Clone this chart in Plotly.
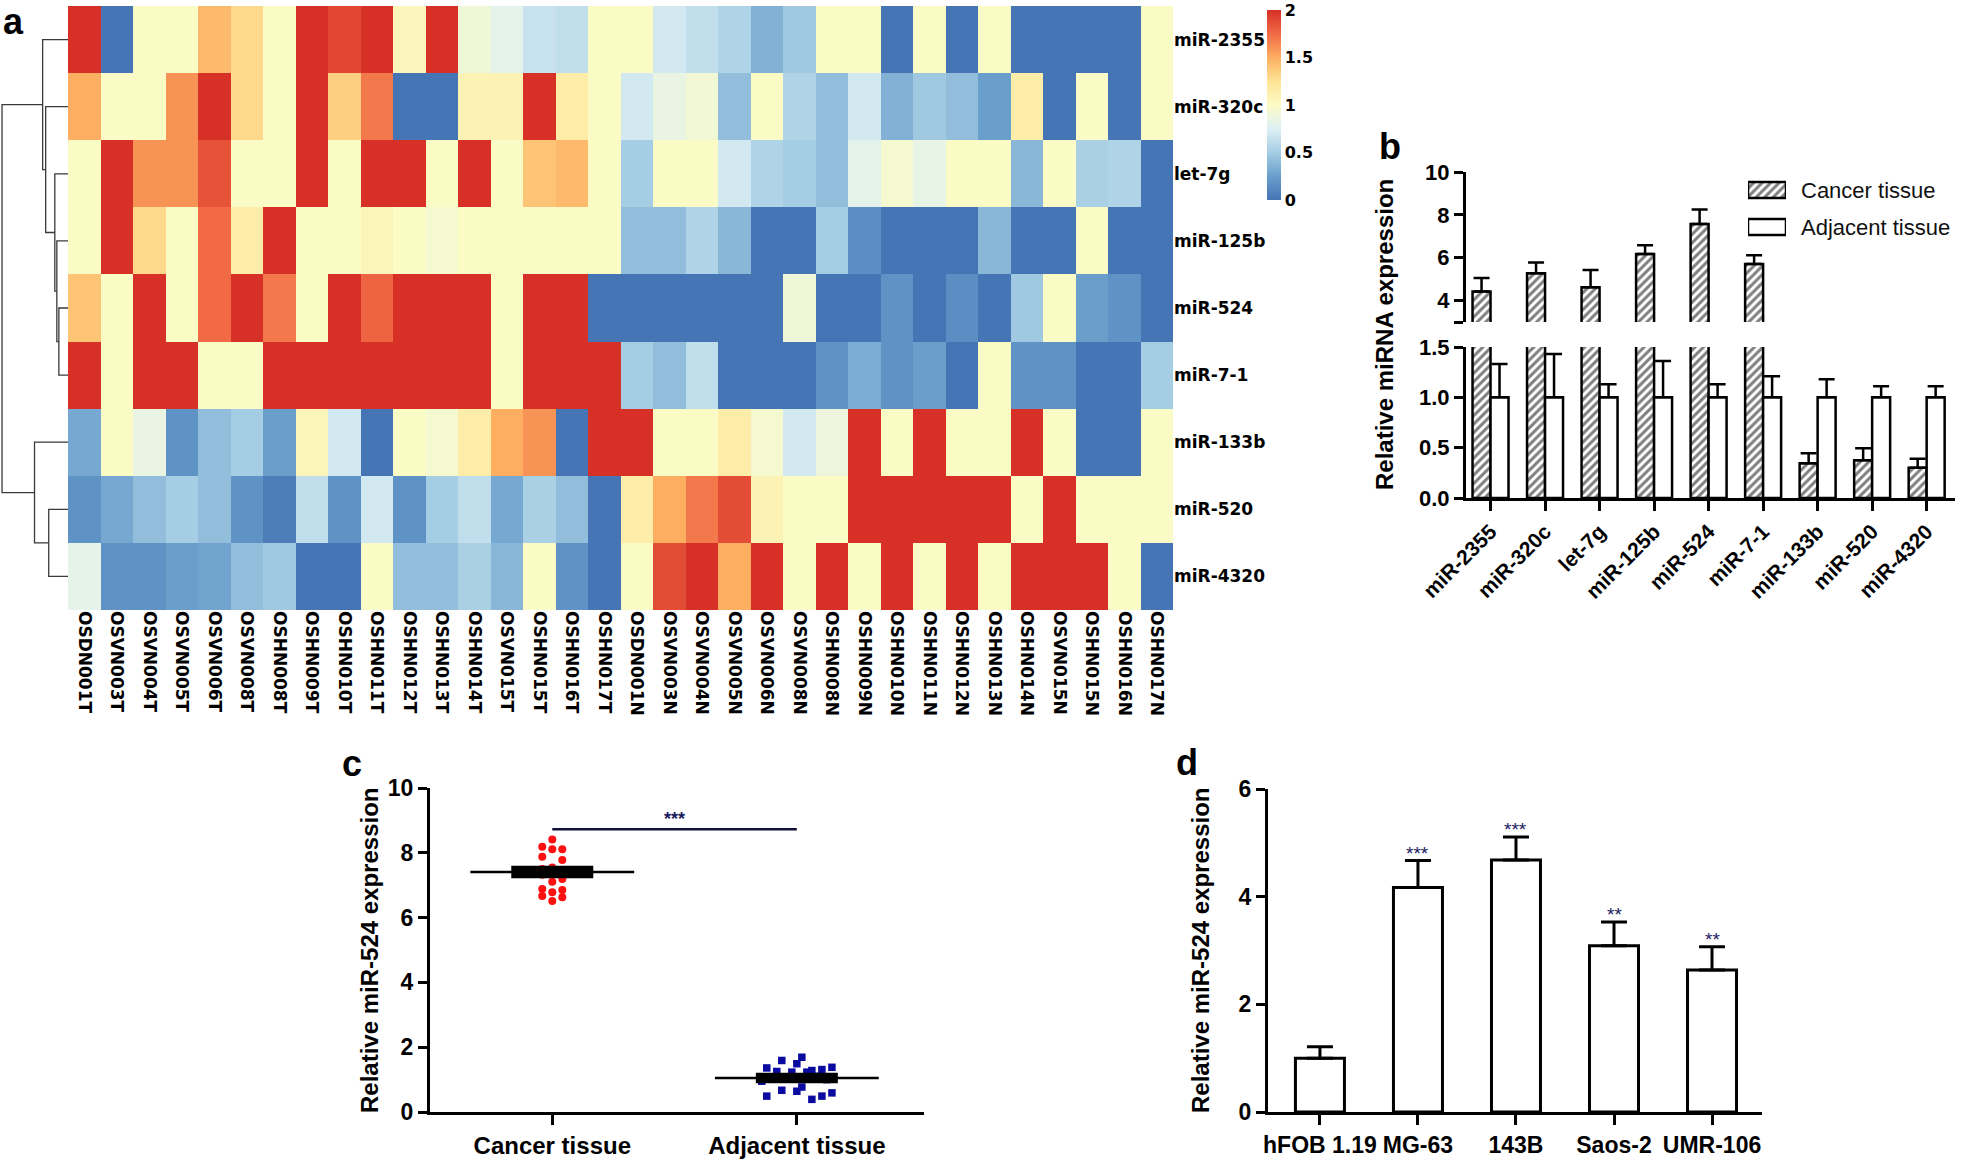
import plotly.graph_objects as go

# ---------------- data ----------------
samples = ["OSDN001T", "OSVN003T", "OSVN004T", "OSVN005T", "OSVN006T", "OSVN008T", "OSHN008T",
           "OSHN009T", "OSHN010T", "OSHN011T", "OSHN012T", "OSHN013T", "OSHN014T", "OSVN015T",
           "OSHN015T", "OSHN016T", "OSHN017T", "OSDN001N", "OSVN003N", "OSVN004N", "OSVN005N",
           "OSVN006N", "OSVN008N", "OSHN008N", "OSHN009N", "OSHN010N", "OSHN011N", "OSHN012N",
           "OSHN013N", "OSHN014N", "OSVN015N", "OSHN015N", "OSHN016N", "OSHN017N"]
mirnas = ["miR-2355", "miR-320c", "let-7g", "miR-125b", "miR-524", "miR-7-1", "miR-133b", "miR-520", "miR-4320"]

expr_mir2355 = [2, 0, 1, 1, 1.45, 1.3, 1, 2, 1.9, 2, 1.05, 2, 0.9, 0.8, 0.65, 0.62, 1,
                1, 0.7, 0.62, 0.55, 0.35, 0.48, 1, 1, 0, 1, 0, 1, 0, 0, 0, 0, 1]
expr_mir320c = [1.5, 1, 1, 1.6, 2, 1.3, 1, 2, 1.35, 1.7, 0, 0, 1.1, 1.1, 2, 1.15, 1,
                0.7, 0.85, 0.92, 0.42, 1, 0.55, 0.42, 0.7, 0.35, 0.48, 0.42, 0.25, 1.15, 0, 1, 0, 1]
expr_let7g = [1, 2, 1.6, 1.6, 1.85, 1, 1, 2, 1, 2, 2, 1, 2, 1, 1.4, 1.45, 1,
              0.5, 1, 1, 0.7, 0.55, 0.5, 0.42, 0.8, 0.95, 0.83, 1, 1, 0.38, 1, 0.52, 0.55, 0]
expr_mir125b = [1, 2, 1.3, 1, 1.75, 1.15, 2, 1, 1, 1.07, 1, 0.95, 1, 1, 1, 1, 1,
                0.42, 0.42, 0.55, 0.38, 0, 0, 0.5, 0.15, 0, 0, 0, 0.38, 0, 0, 1, 0, 0]
expr_mir524 = [1.4, 1, 2, 1, 1.75, 2, 1.7, 1, 2, 1.78, 2, 2, 2, 1, 2, 2, 0,
               0, 0, 0, 0, 0, 0.9, 0, 0, 0.18, 0, 0.15, 0, 0.48, 1, 0.25, 0.18, 0]
expr_mir71 = [2, 1, 2, 2, 1, 1, 2, 2, 2, 2, 2, 2, 2, 1, 2, 2, 2,
              0.5, 0.42, 0.62, 0, 0, 0, 0.18, 0.32, 0.18, 0.25, 0, 1, 0.18, 0.18, 0, 0, 0.5]
expr_mir133b = [0.3, 1, 0.85, 0.18, 0.42, 0.5, 0.25, 1.07, 0.7, 0, 1, 0.95, 1.15, 1.5, 1.6, 0, 2,
                2, 1, 1, 1.15, 0.95, 0.7, 0.88, 2, 1, 2, 1, 1, 2, 1, 0, 0, 1]
expr_mir520 = [0.18, 0.3, 0.42, 0.5, 0.42, 0.18, 0.05, 0.62, 0.18, 0.7, 0.18, 0.5, 0.62, 0.3, 0.52, 0.42, 0,
               1.15, 1.5, 1.7, 1.88, 1.1, 1, 1, 2, 2, 2, 2, 2, 1, 2, 1, 1, 1]
expr_mir4320 = [0.82, 0.18, 0.18, 0.25, 0.28, 0.42, 0.48, 0, 0, 1, 0.42, 0.42, 0.52, 0.38, 1, 0.18, 0,
                1, 1.88, 2, 1.5, 2, 1, 2, 1, 2, 1, 2, 1, 2, 2, 2, 1, 0]
heat_rows = [expr_mir2355, expr_mir320c, expr_let7g, expr_mir125b, expr_mir524,
             expr_mir71, expr_mir133b, expr_mir520, expr_mir4320]
colorbar_ticks = [0, 0.5, 1, 1.5, 2]

# row dendrogram: (child a, child b, height); leaves 0..8, new clusters numbered from 9
dendro_merges = [(4, 5, 0.9), (3, 9, 1.1), (2, 10, 1.3), (1, 11, 2.2), (0, 12, 2.5),
                 (7, 8, 1.9), (6, 14, 3.3), (13, 15, 6.5)]

# panel b
b_series = ["Cancer tissue", "Adjacent tissue"]
b_cancer = [4.42, 5.28, 4.62, 6.17, 7.57, 5.71, 0.345, 0.375, 0.30]
b_cancer_err = [0.63, 0.50, 0.81, 0.41, 0.68, 0.40, 0.10, 0.12, 0.09]
b_adjacent = [1.0, 1.0, 1.0, 1.0, 1.0, 1.0, 1.0, 1.0, 1.0]
b_adjacent_err = [0.33, 0.43, 0.13, 0.36, 0.13, 0.21, 0.18, 0.11, 0.11]

# panel c
c_groups = ["Cancer tissue", "Adjacent tissue"]
c_cancer = [8.41, 8.19, 8.11, 8.11, 7.88, 7.78, 7.55, 7.50, 7.45, 7.38, 7.32,
            7.19, 7.11, 6.88, 6.85, 6.78, 6.67, 6.63, 6.51]
c_adjacent = [1.69, 1.59, 1.49, 1.38, 1.36, 1.31, 1.28, 1.25, 1.23, 1.23, 1.10,
              1.05, 1.00, 0.95, 0.77, 0.67, 0.64, 0.59, 0.49, 0.49, 0.39]
c_means = [7.41, 1.05]
c_sems = [0.10, 0.07]
c_sig = "***"
c_sig_level = 8.73

# panel d
d_cells = ["hFOB 1.19", "MG-63", "143B", "Saos-2", "UMR-106"]
d_values = [1.0, 4.17, 4.68, 3.09, 2.64]
d_err = [0.21, 0.50, 0.43, 0.44, 0.43]
d_sig = ["", "***", "***", "**", "**"]

# ---------------- helpers ----------------
W, H = 1961, 1161
def fx(p):
    return p / W
def fy(p):
    return 1 - p / H

ARIAL = "Arial, Liberation Sans, sans-serif"
DJV = "DejaVu Sans, sans-serif"
NAVY = "#1a1a5e"

colorscale = [[0.0, "#4575b4"], [0.125, "#6a9fcc"], [0.25, "#a5cde3"], [0.375, "#def0f5"],
              [0.5, "#fbfbc6"], [0.625, "#fee496"], [0.75, "#fdae61"], [0.875, "#f16a45"],
              [1.0, "#d73027"]]

fig = go.Figure()

# ---- panel a: heatmap ----
fig.add_trace(go.Heatmap(
    z=heat_rows, x=list(range(len(samples))), y=list(range(len(mirnas))),
    zmin=0, zmax=2, colorscale=colorscale, xaxis="x", yaxis="y",
    colorbar=dict(x=fx(1267), xanchor="left", y=fy(10), yanchor="top",
                  len=(200 - 10) / H, lenmode="fraction", thickness=14, outlinewidth=0,
                  xpad=0, ypad=0, tickvals=colorbar_ticks, ticklabeloverflow="allow",
                  ticktext=[("%g" % t) for t in colorbar_ticks], ticks="",
                  tickfont=dict(family=DJV, size=16, color="black", weight="bold")),
    hoverinfo="skip"))

# dendrogram
pos = {i: (float(i), 0.0) for i in range(len(mirnas))}
dxs, dys = [], []
for k, (a, b, h) in enumerate(dendro_merges):
    ya, ha = pos[a]
    yb, hb = pos[b]
    dxs += [ha, h, h, hb, None]
    dys += [ya, ya, yb, yb, None]
    pos[len(mirnas) + k] = ((ya + yb) / 2, h)
fig.add_trace(go.Scatter(x=dxs, y=dys, mode="lines", line=dict(color="#3a3a3a", width=1.3),
                         xaxis="x2", yaxis="y2", hoverinfo="skip", showlegend=False))

# ---- panel b ----
b_names = mirnas
bx = list(range(len(b_names)))
zeros = [0] * len(bx)
hatch = dict(color="white", line=dict(color="black", width=2.5),
             pattern=dict(shape="/", fgcolor="black", bgcolor="white", size=6, solidity=0.5))
plain = dict(color="white", line=dict(color="black", width=2.5))
for xa, ya in (("x3", "y3"), ("x4", "y4")):
    fig.add_trace(go.Bar(x=bx, y=b_cancer, offset=-0.33, width=0.33, marker=hatch,
                         error_y=dict(type="data", array=b_cancer_err, arrayminus=zeros, symmetric=False,
                                      color="black", thickness=2.5, width=8),
                         xaxis=xa, yaxis=ya, showlegend=False, name=b_series[0]))
    fig.add_trace(go.Bar(x=bx, y=b_adjacent, offset=0.0, width=0.33, marker=plain,
                         error_y=dict(type="data", array=b_adjacent_err, arrayminus=zeros, symmetric=False,
                                      color="black", thickness=2.5, width=8),
                         xaxis=xa, yaxis=ya, showlegend=False, name=b_series[1]))

# legend keys for panel b (drawn in a small dedicated axis)
fig.add_trace(go.Bar(orientation="h", y=list(range(len(b_series)))[::-1], x=[1] * len(b_series),
                     width=0.43,
                     marker=dict(color="white", line=dict(color="black", width=2.5),
                                 pattern=dict(shape=["/", ""], fgcolor="black", bgcolor="white",
                                              size=6, solidity=0.5)),
                     xaxis="x7", yaxis="y7", showlegend=False, hoverinfo="skip"))

# ---- panel c ----
def swarm_offsets(vals, pattern, step=0.041):
    order = sorted(range(len(vals)), key=lambda i: -vals[i])
    off = [0.0] * len(vals)
    for k, i in enumerate(order):
        off[i] = pattern[k % len(pattern)] * step
    return off

c_sets = [c_cancer, c_adjacent]
c_patterns = [[0, -1, 1], [0.5, -1.5, 0, 3.5, -3, 2.5, 1.5, -2, 1, -0.5, 2, -2.5, 3, -3.5]]
c_styles = [dict(color="#ff1010", symbol="circle", size=8),
            dict(color="#0a0aa0", symbol="square", size=7.5)]
for gi, vals in enumerate(c_sets):
    offs = swarm_offsets(vals, c_patterns[gi])
    fig.add_trace(go.Scatter(x=[gi + o for o in offs], y=vals, mode="markers",
                             marker=c_styles[gi], xaxis="x5", yaxis="y5", showlegend=False))
for gi in range(len(c_groups)):
    fig.add_trace(go.Scatter(x=[gi], y=[c_means[gi]], mode="markers", marker=dict(size=1, color="black", opacity=0),
                             error_y=dict(type="data", array=[c_sems[gi]], color="black", thickness=6, width=41),
                             xaxis="x5", yaxis="y5", showlegend=False))
    fig.add_trace(go.Scatter(x=[gi - 0.335, gi + 0.335], y=[c_means[gi]] * 2, mode="lines",
                             line=dict(color="black", width=2.5), xaxis="x5", yaxis="y5", showlegend=False))
fig.add_trace(go.Scatter(x=[0, len(c_groups) - 1], y=[c_sig_level] * 2, mode="lines",
                         line=dict(color="#10103a", width=2.5), xaxis="x5", yaxis="y5", showlegend=False))

# ---- panel d ----
dx = list(range(len(d_cells)))
fig.add_trace(go.Bar(x=dx, y=d_values, width=0.5,
                     marker=dict(color="white", line=dict(color="black", width=3)),
                     error_y=dict(type="data", array=d_err, arrayminus=[0] * len(dx), symmetric=False,
                                  color="black", thickness=3, width=13),
                     xaxis="x6", yaxis="y6", showlegend=False))

# ---------------- layout ----------------
axis_common = dict(showgrid=False, zeroline=False, showline=True, linecolor="black", linewidth=3,
                   ticks="outside", tickcolor="black", tickwidth=2.5)
tick_font = dict(family=ARIAL, size=22, color="black", weight="bold")

layout = dict(
    width=W, height=H, margin=dict(l=0, r=0, t=0, b=0, pad=0, autoexpand=False),
    paper_bgcolor="white", plot_bgcolor="white", barmode="overlay", showlegend=False,
    xaxis=dict(domain=[fx(68), fx(1173)], range=[-0.5, len(samples) - 0.5], tickvals=list(range(len(samples))),
               ticktext=samples, tickangle=90, ticks="", showgrid=False, zeroline=False, showline=False,
               tickfont=dict(family=DJV, size=17, color="black", weight="bold"), anchor="y", automargin=False),
    yaxis=dict(domain=[fy(610), fy(6)], range=[len(mirnas) - 0.5, -0.5], tickvals=list(range(len(mirnas))),
               ticktext=mirnas, side="right", ticks="", showgrid=False, zeroline=False, showline=False,
               tickfont=dict(family=DJV, size=17, color="black", weight="bold"), anchor="x", automargin=False),
    xaxis2=dict(domain=[0, fx(68)], range=[6.7, 0], visible=False, anchor="y2"),
    yaxis2=dict(domain=[fy(610), fy(6)], range=[len(mirnas) - 0.5, -0.5], visible=False, anchor="x2"),
    xaxis3=dict(domain=[fx(1466), fx(1955)], range=[-0.45, 8.52], visible=False, anchor="y3"),
    yaxis3=dict(domain=[fy(322), fy(172)], range=[3, 10], tickvals=[3, 4, 6, 8, 10],
                ticktext=["", "4", "6", "8", "10"], ticklen=9, tickfont=tick_font, anchor="x3", **axis_common),
    xaxis4=dict(domain=[fx(1466), fx(1955)], range=[-0.45, 8.52], tickvals=bx, ticktext=b_names,
                tickangle=-45, ticklen=10, tickfont=dict(family=ARIAL, size=21, color="black", weight="bold"),
                anchor="y4", **axis_common),
    yaxis4=dict(domain=[fy(498), fy(347)], range=[0, 1.5], tickvals=[0, 0.5, 1, 1.5],
                ticktext=["0.0", "0.5", "1.0", "1.5"], ticklen=9, tickfont=tick_font, anchor="x4", **axis_common),
    xaxis7=dict(domain=[fx(1748), fx(1786)], range=[0, 1], visible=False, anchor="y7"),
    yaxis7=dict(domain=[fy(245.5), fy(171.5)], range=[-0.5, len(b_series) - 0.5],
                tickvals=list(range(len(b_series)))[::-1], ticktext=b_series, side="right", ticks="",
                showline=False, showgrid=False, zeroline=False, ticklabelstandoff=14,
                tickfont=dict(family=ARIAL, size=22, color="#111111"), anchor="x7"),
    xaxis5=dict(domain=[fx(430), fx(924)], range=[-0.5, 1.52], tickvals=[0, 1], ticktext=c_groups,
                ticklen=10, tickfont=dict(family=ARIAL, size=24, color="black", weight="bold"),
                anchor="y5", **axis_common),
    yaxis5=dict(domain=[fy(1112), fy(788)], range=[0, 10], tickvals=[0, 2, 4, 6, 8, 10], ticklen=9,
                tickfont=dict(family=ARIAL, size=23, color="black", weight="bold"), anchor="x5", **axis_common),
    xaxis6=dict(domain=[fx(1268), fx(1762)], range=[-0.53, 4.51], tickvals=dx, ticktext=d_cells,
                ticklen=10, tickfont=dict(family=ARIAL, size=23, color="black", weight="bold"),
                anchor="y6", **axis_common),
    yaxis6=dict(domain=[fy(1112), fy(789)], range=[0, 6], tickvals=[0, 2, 4, 6], ticklen=9,
                tickfont=dict(family=ARIAL, size=23, color="black", weight="bold"), anchor="x6", **axis_common),
)
fig.update_layout(**layout)

ann = []
# panel letters
for letter, (px, py) in {"a": (13, 22), "b": (1390, 146), "c": (352, 763), "d": (1187, 762)}.items():
    ann.append(dict(text=letter, x=fx(px), y=fy(py), xref="paper", yref="paper", showarrow=False,
                    xanchor="center", yanchor="middle",
                    font=dict(family=ARIAL, size=36, color="black", weight="bold")))
# y-axis titles
for text, (px, py) in [("Relative miRNA expression", (1385, 335)),
                       ("Relative miR-524 expression", (369, 950)),
                       ("Relative miR-524 expression", (1200, 950))]:
    ann.append(dict(text=text, x=fx(px), y=fy(py), xref="paper", yref="paper", showarrow=False,
                    textangle=-90, xanchor="center", yanchor="middle",
                    font=dict(family=ARIAL, size=24, color="black", weight="bold")))
# significance
ann.append(dict(text=c_sig, x=0.5, y=c_sig_level, xref="x5", yref="y5", showarrow=False,
                yanchor="bottom", yshift=-2, font=dict(family=ARIAL, size=18, color=NAVY, weight="bold")))
for i, s in enumerate(d_sig):
    if s:
        ann.append(dict(text=s, x=i, y=d_values[i] + d_err[i], xref="x6", yref="y6", showarrow=False,
                        yanchor="bottom", yshift=-5, font=dict(family=ARIAL, size=19, color=NAVY)))
fig.update_layout(annotations=ann)

fig.write_html("out.html", config={"displayModeBar": False},
               post_script="document.body.style.margin='0px';document.body.style.overflow='hidden';")
